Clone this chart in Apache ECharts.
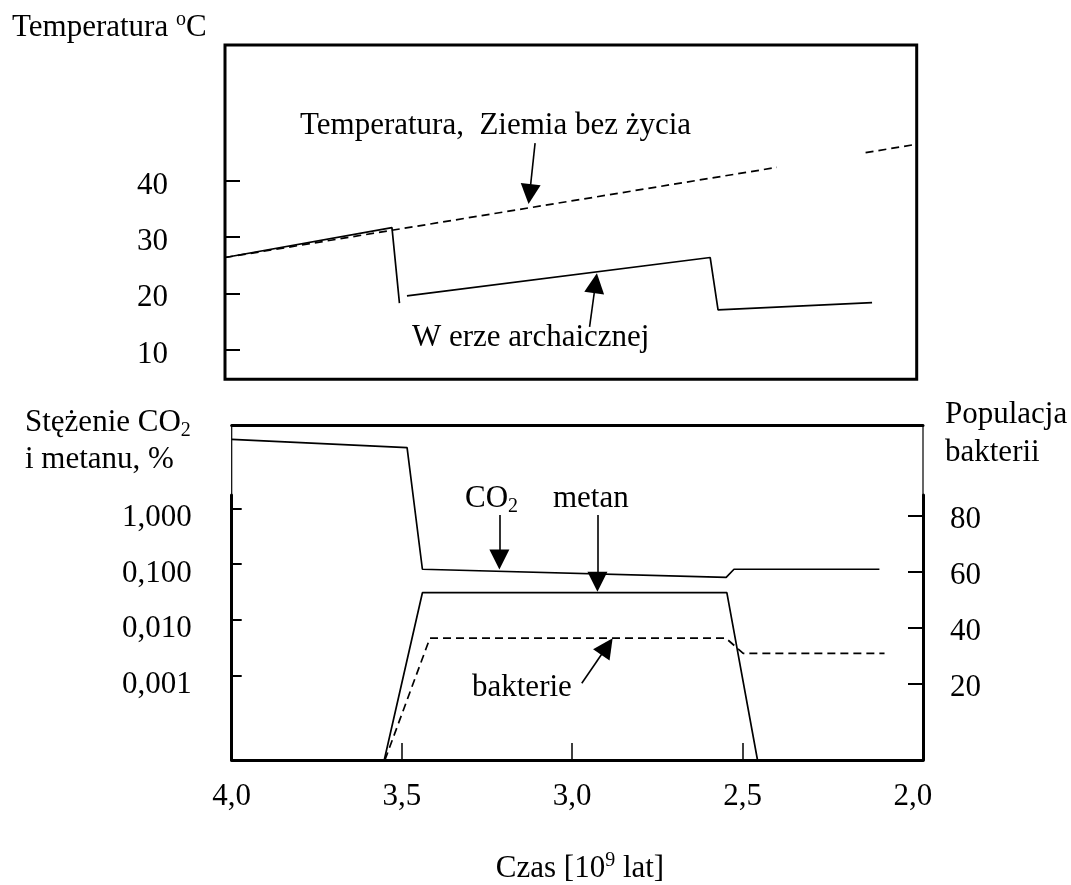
<!DOCTYPE html>
<html>
<head>
<meta charset="utf-8">
<script src="https://cdn.jsdelivr.net/npm/echarts@6/dist/echarts.min.js"></script>
<style>
  html, body { margin: 0; padding: 0; background: #fff; }
  #chart { width: 1071px; height: 885px; }
</style>
</head>
<body>
<div id="chart"></div>
<script>
// Time axis: billions of years before present
const timeLabels = [4.0, 3.5, 3.0, 2.5, 2.0];
const timeMarks = [3.5, 3.0, 2.5];
const timeRange = [1.97, 4.0];

// Upper panel: surface temperature, °C
const tempTicks = [10, 20, 30, 40];
const tempRange = [4.8, 64.1];
const lifelessAge  = [4.0, 2.38, 2.25, 2.12, 1.97];
const lifelessTemp = [26.4, 42.4, null, 45.0, 46.5];
const archeanAge  = [4.0, 3.51, 3.488, 3.477, 3.466, 2.576, 2.553, 2.101];
const archeanTemp = [26.4, 31.7, 18.3, null, 19.6, 26.4, 17.1, 18.4];

// Lower panel: CO2 and methane (%), bacteria population
const gasTicks = [1, 0.1, 0.01, 0.001];
const gasRange = [0.00003, 31.5];
const popTicks = [20, 40, 60, 80];
const popRange = [-7.2, 112.4];
const co2Age = [4.0, 3.485, 3.44, 2.548, 2.525, 2.098];
const co2Pct = [17.4, 12.4, 0.0805, 0.0577, 0.0805, 0.0805];
const methaneAge = [3.552, 3.44, 2.546, 2.456];
const methanePct = [0.00003, 0.0305, 0.0305, 0.00003];
const bacteriaAge = [3.55, 3.418, 2.549, 2.498, 2.083];
const bacteriaPop = [-7.2, 36.3, 36.3, 30.9, 30.9];

// Pointer arrows (tail, head) in data coordinates
const lifelessArrow = [[3.09, 46.7], [3.106, 37.65]];
const archeanArrow  = [[2.93, 14.1], [2.9125, 21.84]];
const co2Arrow      = [[3.214, 0.76], [3.214, 0.121]];
const methaneArrow  = [[2.926, 0.76], [2.926, 0.048]];
const bacteriaArrow = [[2.972, 20.2], [2.898, 33.3]];

const FONT = '"Liberation Serif", "Times New Roman", serif';
const FS = 31;
const BLACK = '#000';

const pairs = (xs, ys) => xs.map((x, i) => [x, ys[i]]);
const commaFixed = (d) => (v) => Number(v).toFixed(d).replace('.', ',');

function arrow(pts) {
  return {
    silent: true,
    animation: false,
    symbol: ['none', 'triangle'],
    symbolSize: 20,
    lineStyle: { color: BLACK, width: 1.6, type: 'solid' },
    itemStyle: { color: BLACK },
    label: { show: false },
    emphasis: { disabled: true },
    data: [[{ coord: pts[0] }, { coord: pts[1] }]]
  };
}

function lineSeries(xi, yi, data, dashed, arrowPts) {
  const s = {
    type: 'line',
    xAxisIndex: xi,
    yAxisIndex: yi,
    data: data,
    symbol: 'none',
    connectNulls: false,
    silent: true,
    animation: false,
    lineStyle: { color: BLACK, width: 1.7, type: dashed ? [8, 5] : 'solid' }
  };
  if (arrowPts) s.markLine = arrow(arrowPts);
  return s;
}

const labelStyle = { color: BLACK, fontFamily: FONT, fontSize: FS };
const noSplit = { show: false };

function text(x, y, str, rich, align) {
  return {
    type: 'text', x: x, y: y, silent: true,
    style: {
      text: str, fill: BLACK, font: FS + 'px ' + FONT,
      align: align || 'left', verticalAlign: 'middle', rich: rich
    }
  };
}
const subRich = {
  n: { fontSize: FS, fontFamily: FONT, lineHeight: 36, verticalAlign: 'middle' },
  s: { fontSize: 20, fontFamily: FONT, verticalAlign: 'bottom' }
};
const supRich = {
  n: { fontSize: FS, fontFamily: FONT, lineHeight: 36, verticalAlign: 'middle' },
  s: { fontSize: 20, fontFamily: FONT, verticalAlign: 'top' }
};

const option = {
  backgroundColor: '#fff',
  animation: false,
  grid: [
    { left: 225, top: 45, width: 691.7, height: 334.3, show: true, borderColor: BLACK, borderWidth: 3 },
    { left: 231.7, top: 425, width: 691.3, height: 335, show: true, borderColor: BLACK, borderWidth: 1.2 },
    { left: 231.7, top: 495, width: 691.3, height: 265 }
  ],
  xAxis: [
    { gridIndex: 0, type: 'value', min: timeRange[0], max: timeRange[1], inverse: true,
      axisLine: { show: false }, axisTick: { show: false }, axisLabel: { show: false }, splitLine: noSplit },
    { gridIndex: 1, type: 'value', min: timeRange[0], max: timeRange[1], inverse: true, position: 'bottom',
      axisLine: { show: true, onZero: false, lineStyle: { color: BLACK, width: 3 } },
      axisTick: { show: true, inside: true, length: 17, customValues: timeMarks, lineStyle: { color: BLACK, width: 1.5 } },
      axisLabel: Object.assign({ customValues: timeLabels, margin: 21, formatter: commaFixed(1) }, labelStyle),
      splitLine: noSplit },
    { gridIndex: 1, type: 'value', min: timeRange[0], max: timeRange[1], inverse: true, position: 'top',
      axisLine: { show: true, onZero: false, lineStyle: { color: BLACK, width: 3 } },
      axisTick: { show: false }, axisLabel: { show: false }, splitLine: noSplit },
    { gridIndex: 2, type: 'value', min: 0, max: 1, show: false }
  ],
  yAxis: [
    { gridIndex: 0, type: 'value', min: tempRange[0], max: tempRange[1],
      axisLine: { show: false },
      axisTick: { show: true, inside: true, length: 15, customValues: tempTicks, lineStyle: { color: BLACK, width: 2 } },
      axisLabel: Object.assign({ customValues: tempTicks, margin: 57, verticalAlign: 'top', lineHeight: 9 }, labelStyle),
      splitLine: noSplit },
    { gridIndex: 1, type: 'log', min: gasRange[0], max: gasRange[1], position: 'left',
      axisLine: { show: false },
      axisTick: { show: true, inside: true, length: 10, customValues: gasTicks, lineStyle: { color: BLACK, width: 2 } },
      axisLabel: Object.assign({ customValues: gasTicks, margin: 40, verticalAlign: 'top', lineHeight: 19, formatter: commaFixed(3) }, labelStyle),
      splitLine: noSplit, minorTick: { show: false } },
    { gridIndex: 1, type: 'value', min: popRange[0], max: popRange[1], position: 'right',
      axisLine: { show: false },
      axisTick: { show: true, inside: true, length: 15, customValues: popTicks, lineStyle: { color: BLACK, width: 2 } },
      axisLabel: Object.assign({ customValues: popTicks, margin: 27, verticalAlign: 'top', lineHeight: 9 }, labelStyle),
      splitLine: noSplit },
    { gridIndex: 2, type: 'value', min: 0, max: 1, position: 'left',
      axisLine: { show: true, onZero: false, lineStyle: { color: BLACK, width: 3 } },
      axisTick: { show: false }, axisLabel: { show: false }, splitLine: noSplit },
    { gridIndex: 2, type: 'value', min: 0, max: 1, position: 'right',
      axisLine: { show: true, onZero: false, lineStyle: { color: BLACK, width: 3 } },
      axisTick: { show: false }, axisLabel: { show: false }, splitLine: noSplit }
  ],
  series: [
    lineSeries(0, 0, pairs(lifelessAge, lifelessTemp), true, lifelessArrow),
    lineSeries(0, 0, pairs(archeanAge, archeanTemp), false, archeanArrow),
    lineSeries(1, 1, pairs(co2Age, co2Pct), false, co2Arrow),
    lineSeries(1, 1, pairs(methaneAge, methanePct), false, methaneArrow),
    lineSeries(1, 2, pairs(bacteriaAge, bacteriaPop), true, bacteriaArrow)
  ],
  graphic: [
    text(12, 28, '{n|Temperatura }{s|o}{n|C}', supRich),
    text(300, 126, 'Temperatura,  Ziemia bez życia'),
    text(412, 338, 'W erze archaicznej'),
    text(25, 423, '{n|Stężenie CO}{s|2}', subRich),
    text(25, 460, 'i metanu, %'),
    text(945, 415, 'Populacja'),
    text(945, 453, 'bakterii'),
    text(465, 499, '{n|CO}{s|2}', subRich),
    text(553, 499, 'metan'),
    text(472, 688, 'bakterie'),
    text(580, 869, '{n|Czas [10}{s|9}{n| lat]}', supRich, 'center')
  ]
};

const chart = echarts.init(document.getElementById('chart'), null, { renderer: 'canvas' });
chart.setOption(option);
</script>
</body>
</html>
